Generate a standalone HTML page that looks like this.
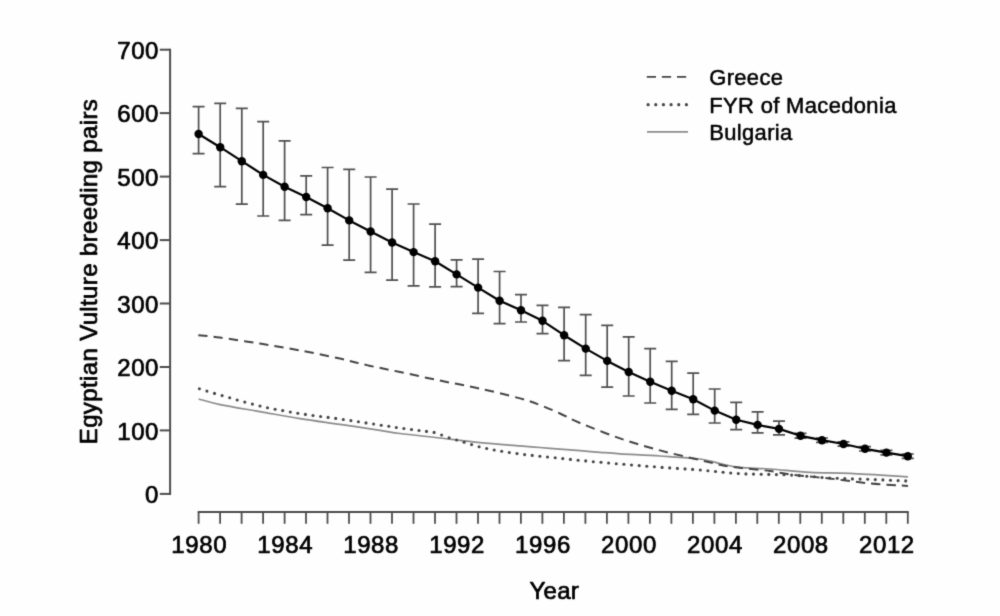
<!DOCTYPE html>
<html><head><meta charset="utf-8"><title>Egyptian Vulture breeding pairs</title>
<style>
html,body{margin:0;padding:0;background:#fff;}
body{width:1000px;height:616px;overflow:hidden;}
svg{display:block;}
text{font-family:"Liberation Sans",Arial,Helvetica,sans-serif;fill:#000;stroke:#000;stroke-width:0.7px;stroke-linejoin:round;}
.lg text{stroke-width:0.5px;}
</style></head><body>
<svg width="1000" height="616" viewBox="0 0 1000 616">
<defs><filter id="soft" filterUnits="userSpaceOnUse" x="0" y="0" width="1000" height="616" color-interpolation-filters="sRGB"><feConvolveMatrix order="3" kernelMatrix="0.0169 0.0962 0.0169 0.0962 0.5476 0.0962 0.0169 0.0962 0.0169" divisor="1" edgeMode="duplicate" preserveAlpha="true"/></filter></defs>
<g filter="url(#soft)">
<rect width="1000" height="616" fill="#fefefe"/>

<g stroke="#4d4d4d" stroke-width="2" fill="none">
<path d="M170.1,48.7 V494.9"/>
<path d="M159.8,493.9 H170.1"/>
<path d="M159.8,430.4 H170.1"/>
<path d="M159.8,367.0 H170.1"/>
<path d="M159.8,303.5 H170.1"/>
<path d="M159.8,240.1 H170.1"/>
<path d="M159.8,176.6 H170.1"/>
<path d="M159.8,113.1 H170.1"/>
<path d="M159.8,49.7 H170.1"/>
<path d="M197.7,512 H908.7"/>
</g>
<g stroke="#4d4d4d" stroke-width="1.8" fill="none">
<path d="M198.6,512 V523.8"/>
<path d="M220.1,512 V523.8"/>
<path d="M241.6,512 V523.8"/>
<path d="M263.1,512 V523.8"/>
<path d="M284.6,512 V523.8"/>
<path d="M306.0,512 V523.8"/>
<path d="M327.5,512 V523.8"/>
<path d="M349.0,512 V523.8"/>
<path d="M370.5,512 V523.8"/>
<path d="M392.0,512 V523.8"/>
<path d="M413.5,512 V523.8"/>
<path d="M435.0,512 V523.8"/>
<path d="M456.5,512 V523.8"/>
<path d="M478.0,512 V523.8"/>
<path d="M499.5,512 V523.8"/>
<path d="M520.9,512 V523.8"/>
<path d="M542.4,512 V523.8"/>
<path d="M563.9,512 V523.8"/>
<path d="M585.4,512 V523.8"/>
<path d="M606.9,512 V523.8"/>
<path d="M628.4,512 V523.8"/>
<path d="M649.9,512 V523.8"/>
<path d="M671.4,512 V523.8"/>
<path d="M692.9,512 V523.8"/>
<path d="M714.4,512 V523.8"/>
<path d="M735.9,512 V523.8"/>
<path d="M757.3,512 V523.8"/>
<path d="M778.8,512 V523.8"/>
<path d="M800.3,512 V523.8"/>
<path d="M821.8,512 V523.8"/>
<path d="M843.3,512 V523.8"/>
<path d="M864.8,512 V523.8"/>
<path d="M886.3,512 V523.8"/>
<path d="M907.8,512 V523.8"/>
</g>
<g font-size="24" text-anchor="end" letter-spacing="0.5">
<text x="158.9" y="503.2">0</text>
<text x="158.9" y="439.7">100</text>
<text x="158.9" y="376.3">200</text>
<text x="158.9" y="312.8">300</text>
<text x="158.9" y="249.4">400</text>
<text x="158.9" y="185.9">500</text>
<text x="158.9" y="122.4">600</text>
<text x="158.9" y="59.0">700</text>
</g>
<g font-size="24" text-anchor="middle">
<text x="199.2" y="553.2" letter-spacing="0.6">1980</text>
<text x="285.2" y="553.2" letter-spacing="0.6">1984</text>
<text x="371.1" y="553.2" letter-spacing="0.6">1988</text>
<text x="457.1" y="553.2" letter-spacing="0.6">1992</text>
<text x="543.0" y="553.2" letter-spacing="0.6">1996</text>
<text x="629.0" y="553.2" letter-spacing="0.6">2000</text>
<text x="715.0" y="553.2" letter-spacing="0.6">2004</text>
<text x="800.9" y="553.2" letter-spacing="0.6">2008</text>
<text x="886.9" y="553.2" letter-spacing="0.6">2012</text>
<text x="554.3" y="599" letter-spacing="0.3">Year</text>
<text transform="translate(97,271.5) rotate(-90)" x="0" y="0" letter-spacing="0.37">Egyptian Vulture breeding pairs</text>
</g>
<g class="lg" font-size="21.5" letter-spacing="0.35">
<text transform="translate(709.2,85) scale(1.022,1)">Greece</text>
<text transform="translate(709.2,112.9) scale(1.022,1)">FYR of Macedonia</text>
<text transform="translate(709.2,140.1) scale(1.022,1)">Bulgaria</text>
</g>
<path d="M646.8,76.9 H688" stroke="#444" stroke-width="1.9" stroke-dasharray="9.2 5.9"/>
<path d="M648.1,104.7 H688" stroke="#444" stroke-width="3.2" stroke-linecap="round" stroke-dasharray="0.01 7.65"/>
<path d="M647,131.8 H688" stroke="#8c8c8c" stroke-width="1.7"/>
<path d="M198.60,399.00 C202.17,399.93 209.77,402.50 220.00,404.60 C230.23,406.70 246.67,409.27 260.00,411.60 C273.33,413.93 286.67,416.47 300.00,418.60 C313.33,420.73 326.67,422.45 340.00,424.40 C353.33,426.35 370.00,428.78 380.00,430.30 C390.00,431.82 390.00,432.22 400.00,433.50 C410.00,434.78 426.67,436.48 440.00,438.00 C453.33,439.52 466.67,441.28 480.00,442.60 C493.33,443.92 510.00,445.08 520.00,445.90 C530.00,446.72 533.33,446.97 540.00,447.50 C546.67,448.03 553.33,448.57 560.00,449.10 C566.67,449.63 573.33,450.17 580.00,450.70 C586.67,451.23 593.33,451.78 600.00,452.30 C606.67,452.82 610.00,453.18 620.00,453.80 C630.00,454.42 646.67,455.13 660.00,456.00 C673.33,456.87 690.00,457.73 700.00,459.00 C710.00,460.27 713.33,462.20 720.00,463.60 C726.67,465.00 731.67,466.50 740.00,467.40 C748.33,468.30 758.33,468.17 770.00,469.00 C781.67,469.83 796.67,471.67 810.00,472.40 C823.33,473.13 833.67,472.67 850.00,473.40 C866.33,474.13 898.33,476.23 908.00,476.80" stroke="#8c8c8c" stroke-width="1.7" fill="none"/>
<g fill="#444">
<circle cx="199.4" cy="388.8" r="1.55"/>
<circle cx="206.9" cy="391.1" r="1.55"/>
<circle cx="214.5" cy="393.4" r="1.55"/>
<circle cx="222.1" cy="395.6" r="1.55"/>
<circle cx="229.7" cy="397.8" r="1.55"/>
<circle cx="237.2" cy="400.0" r="1.55"/>
<circle cx="244.8" cy="402.1" r="1.55"/>
<circle cx="252.4" cy="404.1" r="1.55"/>
<circle cx="260.0" cy="406.0" r="1.55"/>
<circle cx="267.5" cy="407.7" r="1.55"/>
<circle cx="275.1" cy="409.2" r="1.55"/>
<circle cx="282.7" cy="410.6" r="1.55"/>
<circle cx="290.3" cy="412.0" r="1.55"/>
<circle cx="297.8" cy="413.2" r="1.55"/>
<circle cx="305.4" cy="414.4" r="1.55"/>
<circle cx="313.0" cy="415.5" r="1.55"/>
<circle cx="320.6" cy="416.5" r="1.55"/>
<circle cx="328.1" cy="417.4" r="1.55"/>
<circle cx="335.7" cy="418.4" r="1.55"/>
<circle cx="343.3" cy="419.5" r="1.55"/>
<circle cx="350.9" cy="420.6" r="1.55"/>
<circle cx="358.4" cy="421.7" r="1.55"/>
<circle cx="366.0" cy="422.9" r="1.55"/>
<circle cx="373.6" cy="424.0" r="1.55"/>
<circle cx="381.2" cy="425.2" r="1.55"/>
<circle cx="388.8" cy="426.3" r="1.55"/>
<circle cx="396.3" cy="427.5" r="1.55"/>
<circle cx="403.9" cy="428.5" r="1.55"/>
<circle cx="411.5" cy="429.5" r="1.55"/>
<circle cx="419.0" cy="430.5" r="1.55"/>
<circle cx="426.5" cy="431.4" r="1.55"/>
<circle cx="434.1" cy="432.4" r="1.55"/>
<circle cx="441.6" cy="435.0" r="1.55"/>
<circle cx="449.1" cy="437.7" r="1.55"/>
<circle cx="456.6" cy="440.0" r="1.55"/>
<circle cx="464.1" cy="442.3" r="1.55"/>
<circle cx="471.6" cy="444.6" r="1.55"/>
<circle cx="479.1" cy="446.8" r="1.55"/>
<circle cx="486.7" cy="448.5" r="1.55"/>
<circle cx="494.2" cy="450.0" r="1.55"/>
<circle cx="501.7" cy="451.3" r="1.55"/>
<circle cx="509.3" cy="452.5" r="1.55"/>
<circle cx="517.0" cy="453.6" r="1.55"/>
<circle cx="524.6" cy="454.6" r="1.55"/>
<circle cx="532.2" cy="455.4" r="1.55"/>
<circle cx="539.9" cy="456.2" r="1.55"/>
<circle cx="547.5" cy="457.0" r="1.55"/>
<circle cx="555.2" cy="457.8" r="1.55"/>
<circle cx="562.8" cy="458.6" r="1.55"/>
<circle cx="570.4" cy="459.4" r="1.55"/>
<circle cx="578.1" cy="460.2" r="1.55"/>
<circle cx="585.7" cy="460.9" r="1.55"/>
<circle cx="593.3" cy="461.7" r="1.55"/>
<circle cx="601.0" cy="462.3" r="1.55"/>
<circle cx="608.6" cy="463.0" r="1.55"/>
<circle cx="616.3" cy="463.7" r="1.55"/>
<circle cx="623.9" cy="464.3" r="1.55"/>
<circle cx="631.5" cy="465.0" r="1.55"/>
<circle cx="639.2" cy="465.6" r="1.55"/>
<circle cx="646.8" cy="466.2" r="1.55"/>
<circle cx="654.4" cy="466.8" r="1.55"/>
<circle cx="662.1" cy="467.4" r="1.55"/>
<circle cx="669.7" cy="467.9" r="1.55"/>
<circle cx="677.4" cy="468.4" r="1.55"/>
<circle cx="685.0" cy="468.9" r="1.55"/>
<circle cx="692.6" cy="469.4" r="1.55"/>
<circle cx="700.3" cy="470.0" r="1.55"/>
<circle cx="707.9" cy="470.7" r="1.55"/>
<circle cx="715.5" cy="471.5" r="1.55"/>
<circle cx="723.1" cy="472.3" r="1.55"/>
<circle cx="730.7" cy="473.0" r="1.55"/>
<circle cx="738.3" cy="473.5" r="1.55"/>
<circle cx="745.9" cy="473.9" r="1.55"/>
<circle cx="753.5" cy="474.1" r="1.55"/>
<circle cx="761.2" cy="474.3" r="1.55"/>
<circle cx="768.8" cy="474.4" r="1.55"/>
<circle cx="776.4" cy="474.6" r="1.55"/>
<circle cx="784.0" cy="474.8" r="1.55"/>
<circle cx="791.6" cy="475.1" r="1.55"/>
<circle cx="799.2" cy="475.6" r="1.55"/>
<circle cx="806.8" cy="476.2" r="1.55"/>
<circle cx="814.4" cy="476.8" r="1.55"/>
<circle cx="822.0" cy="477.5" r="1.55"/>
<circle cx="829.6" cy="478.0" r="1.55"/>
<circle cx="837.2" cy="478.3" r="1.55"/>
<circle cx="844.8" cy="478.6" r="1.55"/>
<circle cx="852.4" cy="478.9" r="1.55"/>
<circle cx="860.1" cy="479.1" r="1.55"/>
<circle cx="867.7" cy="479.3" r="1.55"/>
<circle cx="875.3" cy="479.6" r="1.55"/>
<circle cx="882.9" cy="479.9" r="1.55"/>
<circle cx="890.5" cy="480.2" r="1.55"/>
<circle cx="898.1" cy="480.6" r="1.55"/>
<circle cx="905.7" cy="480.9" r="1.55"/>
</g>
<path d="M198.30,335.20 C201.92,335.60 209.72,336.20 220.00,337.60 C230.28,339.00 246.67,341.47 260.00,343.60 C273.33,345.73 286.67,347.90 300.00,350.40 C313.33,352.90 328.67,356.10 340.00,358.60 C351.33,361.10 358.00,363.17 368.00,365.40 C378.00,367.63 388.00,369.47 400.00,372.00 C412.00,374.53 426.67,377.83 440.00,380.60 C453.33,383.37 466.67,385.63 480.00,388.60 C493.33,391.57 510.00,395.67 520.00,398.40 C530.00,401.13 533.33,402.48 540.00,405.00 C546.67,407.52 553.33,410.50 560.00,413.50 C566.67,416.50 570.00,418.85 580.00,423.00 C590.00,427.15 606.67,433.83 620.00,438.40 C633.33,442.97 646.67,446.80 660.00,450.40 C673.33,454.00 688.33,457.30 700.00,460.00 C711.67,462.70 718.33,464.77 730.00,466.60 C741.67,468.43 760.00,469.70 770.00,471.00 C780.00,472.30 780.00,473.13 790.00,474.40 C800.00,475.67 816.67,477.10 830.00,478.60 C843.33,480.10 857.00,482.17 870.00,483.40 C883.00,484.63 901.67,485.57 908.00,486.00" stroke="#444" stroke-width="2" stroke-dasharray="9.3 6.07" fill="none"/>
<g stroke="#505050" stroke-width="1.7" fill="none">
<path d="M192.6,106.6 H204.6 M198.6,106.6 V153.6 M192.6,153.6 H204.6"/>
<path d="M214.2,103.4 H226.2 M220.2,103.4 V186.6 M214.2,186.6 H226.2"/>
<path d="M235.8,108.4 H247.8 M241.8,108.4 V204.2 M235.8,204.2 H247.8"/>
<path d="M257.2,121.6 H269.2 M263.2,121.6 V216.0 M257.2,216.0 H269.2"/>
<path d="M278.6,140.8 H290.6 M284.6,140.8 V220.4 M278.6,220.4 H290.6"/>
<path d="M300.2,175.9 H312.2 M306.2,175.9 V214.6 M300.2,214.6 H312.2"/>
<path d="M321.6,167.5 H333.6 M327.6,167.5 V245.2 M321.6,245.2 H333.6"/>
<path d="M343.2,169.4 H355.2 M349.2,169.4 V260.2 M343.2,260.2 H355.2"/>
<path d="M364.6,177.0 H376.6 M370.6,177.0 V272.3 M364.6,272.3 H376.6"/>
<path d="M386.1,189.2 H398.1 M392.1,189.2 V280.2 M386.1,280.2 H398.1"/>
<path d="M407.6,204.0 H419.6 M413.6,204.0 V285.8 M407.6,285.8 H419.6"/>
<path d="M429.1,224.1 H441.1 M435.1,224.1 V286.8 M429.1,286.8 H441.1"/>
<path d="M450.6,259.8 H462.6 M456.6,259.8 V286.6 M450.6,286.6 H462.6"/>
<path d="M472.1,259.2 H484.1 M478.1,259.2 V313.4 M472.1,313.4 H484.1"/>
<path d="M493.6,271.5 H505.6 M499.6,271.5 V323.6 M493.6,323.6 H505.6"/>
<path d="M515.0,294.7 H527.0 M521.0,294.7 V322.0 M515.0,322.0 H527.0"/>
<path d="M536.5,305.4 H548.5 M542.5,305.4 V333.6 M536.5,333.6 H548.5"/>
<path d="M558.1,307.4 H570.1 M564.1,307.4 V360.6 M558.1,360.6 H570.1"/>
<path d="M579.7,314.6 H591.7 M585.7,314.6 V375.4 M579.7,375.4 H591.7"/>
<path d="M601.2,325.3 H613.2 M607.2,325.3 V387.2 M601.2,387.2 H613.2"/>
<path d="M622.7,336.9 H634.7 M628.7,336.9 V396.0 M622.7,396.0 H634.7"/>
<path d="M644.2,348.7 H656.2 M650.2,348.7 V403.0 M644.2,403.0 H656.2"/>
<path d="M665.7,361.3 H677.7 M671.7,361.3 V409.4 M665.7,409.4 H677.7"/>
<path d="M687.2,373.2 H699.2 M693.2,373.2 V414.4 M687.2,414.4 H699.2"/>
<path d="M708.7,389.0 H720.7 M714.7,389.0 V423.0 M708.7,423.0 H720.7"/>
<path d="M730.2,402.4 H742.2 M736.2,402.4 V429.7 M730.2,429.7 H742.2"/>
<path d="M751.6,411.8 H763.6 M757.6,411.8 V432.9 M751.6,432.9 H763.6"/>
<path d="M773.0,421.1 H785.0 M779.0,421.1 V434.8 M773.0,434.8 H785.0"/>
<path d="M794.5,433.4 H806.5 M800.5,433.4 V438.2 M794.5,438.2 H806.5"/>
<path d="M816.0,438.0 H828.0 M822.0,438.0 V442.4 M816.0,442.4 H828.0"/>
<path d="M837.5,441.8 H849.5 M843.5,441.8 V446.2 M837.5,446.2 H849.5"/>
<path d="M859.0,446.6 H871.0 M865.0,446.6 V451.0 M859.0,451.0 H871.0"/>
<path d="M880.4,450.4 H892.4 M886.4,450.4 V454.8 M880.4,454.8 H892.4"/>
<path d="M901.8,454.0 H913.8 M907.8,454.0 V458.4 M901.8,458.4 H913.8"/>
</g>
<path d="M198.6,134.0 L220.2,147.2 L241.8,161.2 L263.2,174.9 L284.6,186.8 L306.2,197.0 L327.6,208.2 L349.2,220.4 L370.6,231.5 L392.1,242.5 L413.6,252.1 L435.1,261.3 L456.6,274.4 L478.1,287.6 L499.6,300.7 L521.0,310.2 L542.5,320.8 L564.1,335.2 L585.7,348.6 L607.2,360.9 L628.7,372.0 L650.2,381.8 L671.7,390.8 L693.2,399.2 L714.7,410.6 L736.2,419.8 L757.6,424.9 L779.0,428.9 L800.5,435.8 L822.0,440.2 L843.5,444.0 L865.0,448.8 L886.4,452.6 L907.8,456.2" stroke="#000" stroke-width="2.2" fill="none" stroke-linejoin="round"/>
<g fill="#000">
<circle cx="198.6" cy="134.0" r="4.2"/>
<circle cx="220.2" cy="147.2" r="4.2"/>
<circle cx="241.8" cy="161.2" r="4.2"/>
<circle cx="263.2" cy="174.9" r="4.2"/>
<circle cx="284.6" cy="186.8" r="4.2"/>
<circle cx="306.2" cy="197.0" r="4.2"/>
<circle cx="327.6" cy="208.2" r="4.2"/>
<circle cx="349.2" cy="220.4" r="4.2"/>
<circle cx="370.6" cy="231.5" r="4.2"/>
<circle cx="392.1" cy="242.5" r="4.2"/>
<circle cx="413.6" cy="252.1" r="4.2"/>
<circle cx="435.1" cy="261.3" r="4.2"/>
<circle cx="456.6" cy="274.4" r="4.2"/>
<circle cx="478.1" cy="287.6" r="4.2"/>
<circle cx="499.6" cy="300.7" r="4.2"/>
<circle cx="521.0" cy="310.2" r="4.2"/>
<circle cx="542.5" cy="320.8" r="4.2"/>
<circle cx="564.1" cy="335.2" r="4.2"/>
<circle cx="585.7" cy="348.6" r="4.2"/>
<circle cx="607.2" cy="360.9" r="4.2"/>
<circle cx="628.7" cy="372.0" r="4.2"/>
<circle cx="650.2" cy="381.8" r="4.2"/>
<circle cx="671.7" cy="390.8" r="4.2"/>
<circle cx="693.2" cy="399.2" r="4.2"/>
<circle cx="714.7" cy="410.6" r="4.2"/>
<circle cx="736.2" cy="419.8" r="4.2"/>
<circle cx="757.6" cy="424.9" r="4.2"/>
<circle cx="779.0" cy="428.9" r="4.2"/>
<circle cx="800.5" cy="435.8" r="4.2"/>
<circle cx="822.0" cy="440.2" r="4.2"/>
<circle cx="843.5" cy="444.0" r="4.2"/>
<circle cx="865.0" cy="448.8" r="4.2"/>
<circle cx="886.4" cy="452.6" r="4.2"/>
<circle cx="907.8" cy="456.2" r="4.2"/>
</g>
</g></svg></body></html>
